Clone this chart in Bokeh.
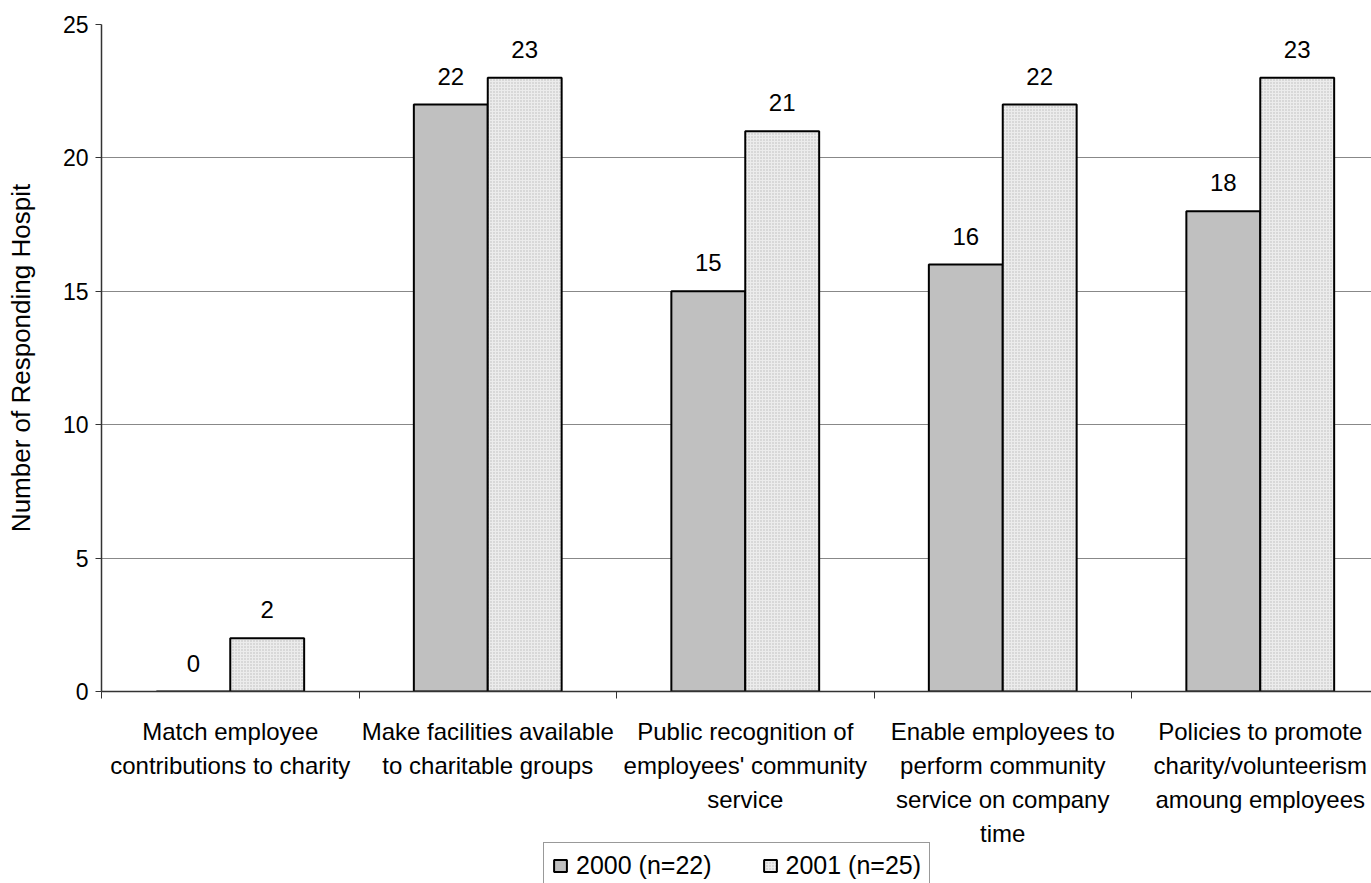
from bokeh.plotting import figure
from bokeh.layouts import column
from bokeh.models import (ColumnDataSource, Range1d, FixedTicker, LabelSet, Legend, LegendItem)
from bokeh.core.properties import value
from bokeh.embed import file_html
from bokeh.resources import INLINE

categories = [
    "Match employee\ncontributions to charity",
    "Make facilities available\nto charitable groups",
    "Public recognition of\nemployees' community\nservice",
    "Enable employees to\nperform community\nservice on company\ntime",
    "Policies to promote\ncharity/volunteerism\namoung employees",
]
series_names = ["2000 (n=22)", "2001 (n=25)"]
values_2000 = [0, 22, 15, 16, 18]
values_2001 = [2, 23, 21, 22, 23]
y_ticks = [0, 5, 10, 15, 20, 25]

FONT = "Liberation Sans"
BAR_W = 0.287
pos = list(range(1, len(categories) + 1))
STYLE0 = dict(fill_color="#C0C0C0", line_color="black", line_width=2)
STYLE1 = dict(fill_color="#ECECEC", line_color="black", line_width=2,
              hatch_pattern="dot", hatch_color="#B8B8B8", hatch_scale=3, hatch_weight=1)

xr = Range1d(0.5, 5.432)

# ---------------- main chart ----------------
p = figure(frame_width=1270, frame_height=667, output_backend="svg", toolbar_location=None,
           x_range=xr, y_range=Range1d(0, 25),
           min_border_left=101, min_border_top=24, min_border_right=0, min_border_bottom=20)
p.outline_line_color = None
p.background_fill_color = "white"
p.border_fill_color = "white"

src0 = ColumnDataSource(dict(x=[c - BAR_W / 2 for c in pos], top=values_2000,
                             lab=[str(v) for v in values_2000]))
src1 = ColumnDataSource(dict(x=[c + BAR_W / 2 for c in pos], top=values_2001,
                             lab=[str(v) for v in values_2001]))

p.vbar(x="x", top="top", bottom=0, width=BAR_W, source=src0, **STYLE0)
p.vbar(x="x", top="top", bottom=0, width=BAR_W, source=src1, **STYLE1)

for s in (src0, src1):
    p.add_layout(LabelSet(x="x", y="top", text="lab", source=s, y_offset=20,
                          text_align="center", text_baseline="alphabetic",
                          text_font=value(FONT), text_font_size=value("24px"),
                          text_color="black"))

p.yaxis.ticker = FixedTicker(ticks=y_ticks)
p.yaxis.axis_label = "Number of Responding Hospit"
p.yaxis.axis_label_text_font = FONT
p.yaxis.axis_label_text_font_size = "26px"
p.yaxis.axis_label_text_font_style = "normal"
p.yaxis.axis_label_text_color = "black"
p.yaxis.axis_label_standoff = 24
p.yaxis.major_label_text_font = FONT
p.yaxis.major_label_text_font_size = "23px"
p.yaxis.major_label_text_color = "black"
p.yaxis.major_label_standoff = 7
p.yaxis.major_tick_out = 6
p.yaxis.major_tick_in = 0
p.yaxis.minor_tick_out = 0
p.yaxis.minor_tick_in = 0
p.yaxis.axis_line_color = "#333333"
p.yaxis.axis_line_width = 1.5
p.yaxis.major_tick_line_color = "#333333"

p.xaxis.ticker = FixedTicker(ticks=pos, minor_ticks=[c - 0.5 for c in pos] + [pos[-1] + 0.5])
p.xaxis.major_label_overrides = {c: "" for c in pos}
p.xaxis.major_label_text_font_size = "1px"
p.xaxis.major_label_standoff = 0
p.xaxis.major_tick_out = 0
p.xaxis.major_tick_in = 0
p.xaxis.minor_tick_out = 7
p.xaxis.minor_tick_in = 0
p.xaxis.minor_tick_line_color = "#333333"
p.xaxis.axis_line_color = "#333333"
p.xaxis.axis_line_width = 1.5

p.xgrid.grid_line_color = None
p.ygrid.ticker = FixedTicker(ticks=y_ticks)
p.ygrid.grid_line_color = "#888888"
p.ygrid.grid_line_width = 1

# ---------------- category labels + legend strip ----------------
STRIP_H = 172
p2 = figure(frame_width=1270, frame_height=STRIP_H, output_backend="svg", toolbar_location=None,
            x_range=xr, y_range=Range1d(STRIP_H, 0),
            x_axis_location=None, y_axis_location=None,
            min_border_left=101, min_border_top=0, min_border_right=0, min_border_bottom=0)
p2.outline_line_color = None
p2.grid.visible = False
p2.background_fill_color = "white"
p2.border_fill_color = "white"

lab_src = ColumnDataSource(dict(x=pos, y=[6] * len(pos), text=categories))
p2.text(x="x", y="y", text="text", source=lab_src,
        text_align="center", text_baseline="top", text_line_height=1.27,
        text_font=value(FONT), text_font_size=value("24px"), text_color="black")

# legend-only renderers (no drawable rows)
nan = float("nan")
d0 = p2.vbar(x=[nan], top=[nan], bottom=0, width=BAR_W, **STYLE0)
d1 = p2.vbar(x=[nan], top=[nan], bottom=0, width=BAR_W, **STYLE1)

legend = Legend(items=[LegendItem(label=series_names[0], renderers=[d0]),
                       LegendItem(label=series_names[1], renderers=[d1])],
                orientation="horizontal", location=(442, -6),
                label_text_font=FONT, label_text_font_size="25px", label_text_color="black",
                label_text_line_height=1.0, label_height=28,
                glyph_width=16, glyph_height=15, label_standoff=8,
                spacing=50, padding=8, margin=0,
                title_standoff=0, title_text_font_size="0px", title_text_line_height=0,
                border_line_color="#333333", border_line_width=1,
                background_fill_alpha=1)
p2.add_layout(legend, "center")

layout = column(p, p2, spacing=0)
open("out.html", "w").write(file_html(layout, INLINE))
